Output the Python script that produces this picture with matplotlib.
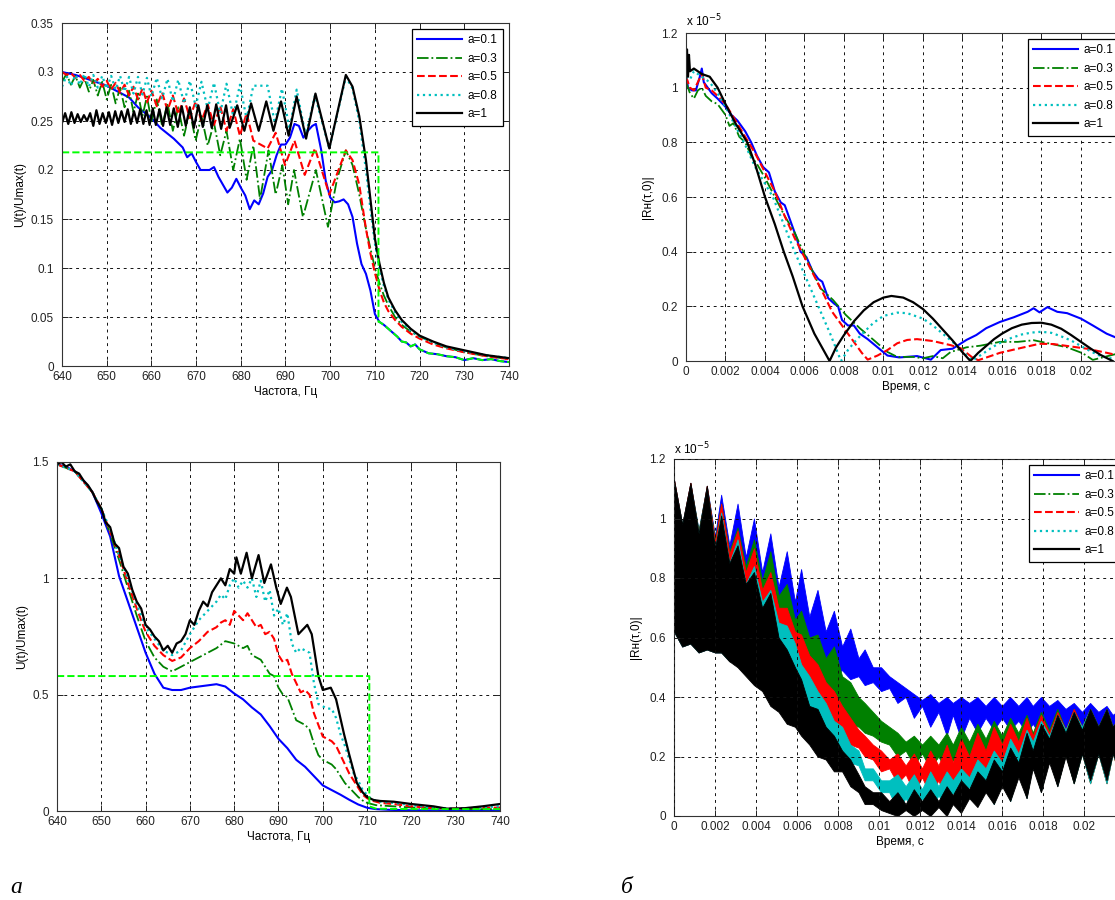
import numpy as np
import matplotlib
matplotlib.use("Agg")
import matplotlib.pyplot as plt
from matplotlib.lines import Line2D
from matplotlib.ticker import FuncFormatter

plt.rcParams['font.family'] = ['Liberation Sans', 'DejaVu Sans']
plt.rcParams['font.size'] = 8.5

labels = ['a=0.1', 'a=0.3', 'a=0.5', 'a=0.8', 'a=1']
colors = ['#0000ff', '#008000', '#ff0000', '#00bfbf', '#000000']
styles = ['-', '-.', '--', ':', '-']
widths = [1.5, 1.3, 1.5, 1.6, 1.6]

# ---- top left: spectrum, 640-740 Hz ----
tl_f_blue = [640, 643, 645, 650, 655, 657, 660, 662, 665, 667, 668, 669, 670, 671, 673, 674, 675,
             677, 678, 679, 680, 681, 682, 683, 684, 685, 686, 687, 688, 689, 690, 691, 692, 693,
             694, 695, 696, 696.8, 698, 699, 700, 701, 702, 703, 704, 705, 706, 707, 708, 709,
             710, 711, 712, 713, 714, 715, 716, 717, 718, 719, 720, 722, 724, 726, 728, 730, 732,
             734, 736, 738, 740]
tl_blue = [0.3, 0.297, 0.294, 0.286, 0.274, 0.264, 0.253, 0.243, 0.232, 0.223, 0.213, 0.217,
           0.208, 0.2, 0.2, 0.203, 0.193, 0.177, 0.182, 0.191, 0.182, 0.174, 0.16, 0.169, 0.165,
           0.176, 0.193, 0.2, 0.215, 0.226, 0.226, 0.233, 0.247, 0.245, 0.233, 0.24, 0.245, 0.247,
           0.22, 0.189, 0.172, 0.167, 0.168, 0.17, 0.165, 0.152, 0.125, 0.104, 0.094, 0.077,
           0.053, 0.045, 0.042, 0.038, 0.034, 0.03, 0.025, 0.024, 0.02, 0.022, 0.017, 0.013,
           0.012, 0.01, 0.009, 0.006, 0.008, 0.006, 0.007, 0.005, 0.004]

tl_f_osc = [640, 641, 642, 643, 644, 645, 646, 647, 648, 649, 650, 651, 652, 653, 654, 655, 656,
            657, 658, 659, 660, 661.2, 662.4, 663.6, 664.8, 666, 667.3, 668.6, 669.9, 671.2,
            672.6, 674, 675.4, 676.8, 678.3, 679.8, 681.3, 682.8, 684.3]
tl_green = [0.29, 0.298, 0.287, 0.296, 0.284, 0.294, 0.28, 0.292, 0.276, 0.29, 0.272, 0.287,
            0.268, 0.284, 0.264, 0.281, 0.259, 0.278, 0.255, 0.275, 0.25, 0.272, 0.245, 0.268,
            0.24, 0.264, 0.235, 0.26, 0.23, 0.255, 0.225, 0.248, 0.215, 0.24, 0.2, 0.232, 0.19,
            0.225, 0.17]
tl_f_green_tail = [686.2, 687.8, 689.3, 690.6, 691.9, 693.9, 696.8, 699.5, 701.5, 703.5, 705,
                   706.5, 708, 709, 710, 711, 712, 713, 714.5, 716, 718, 720, 723, 726, 730,
                   735, 740]
tl_green_tail = [0.22, 0.175, 0.205, 0.165, 0.2, 0.152, 0.2, 0.142, 0.19, 0.22, 0.205, 0.175,
                 0.14, 0.12, 0.1, 0.085, 0.072, 0.062, 0.05, 0.042, 0.035, 0.03, 0.024, 0.019,
                 0.014, 0.01, 0.007]

tl_red = [0.3, 0.297, 0.299, 0.294, 0.297, 0.291, 0.295, 0.288, 0.293, 0.285, 0.291, 0.282,
          0.289, 0.279, 0.287, 0.276, 0.285, 0.272, 0.283, 0.269, 0.281, 0.265, 0.279, 0.261,
          0.276, 0.257, 0.273, 0.253, 0.27, 0.25, 0.267, 0.246, 0.265, 0.24, 0.262, 0.235,
          0.258, 0.23, 0.252]
tl_f_red_tail = [686, 687.8, 689.9, 692, 694.3, 696.6, 699.8, 703.5, 705, 706.5, 708, 709, 710,
                 711, 712, 713, 714.5, 716, 718, 720, 723, 726, 730, 735, 740]
tl_red_tail = [0.222, 0.238, 0.205, 0.23, 0.195, 0.222, 0.175, 0.22, 0.21, 0.185, 0.14, 0.115,
               0.095, 0.078, 0.065, 0.056, 0.047, 0.04, 0.033, 0.028, 0.022, 0.018, 0.014,
               0.01, 0.007]

tl_cyan = [0.285, 0.296, 0.286, 0.297, 0.287, 0.298, 0.285, 0.297, 0.284, 0.296, 0.283, 0.296,
           0.282, 0.296, 0.28, 0.295, 0.278, 0.295, 0.277, 0.294, 0.275, 0.294, 0.273, 0.293,
           0.27, 0.292, 0.268, 0.291, 0.265, 0.29, 0.262, 0.289, 0.258, 0.288, 0.255, 0.287,
           0.252, 0.286, 0.25]
tl_f_cyan_tail = [686, 687.6, 689.2, 690.9, 692.5, 694.5, 696.6, 699.8, 703.5, 705, 706.5,
                  708, 709, 710, 711, 712, 713, 714.5, 716, 718, 720, 723, 726, 730, 735, 740]
tl_cyan_tail = [0.286, 0.248, 0.283, 0.242, 0.282, 0.235, 0.276, 0.222, 0.295, 0.283, 0.25,
                0.2, 0.16, 0.125, 0.1, 0.082, 0.068, 0.055, 0.045, 0.036, 0.03, 0.024, 0.019,
                0.015, 0.011, 0.008]

tl_f_black = [640, 640.7, 641.4, 642.1, 642.8, 643.5, 644.2, 644.9, 645.6, 646.3, 647, 647.7,
              648.4, 649.1, 649.8, 650.5, 651.2, 651.9, 652.6, 653.3, 654, 654.7, 655.4, 656.1,
              656.8, 657.5, 658.2, 658.9, 659.6, 660.3, 661, 661.8, 662.6, 663.4, 664.2, 665,
              665.9, 666.8, 667.7, 668.6, 669.5, 670.5, 671.5, 672.5, 673.5, 674.5, 675.6,
              676.7, 677.5, 679.2, 680.8, 682.3, 684, 685.7, 687.3, 689, 690.7, 692.5, 694.6,
              696.7, 699.8, 703.5, 705, 706.5, 708, 709, 710, 711, 712, 713, 714.5, 716, 718,
              720, 723, 726, 730, 735, 740]
tl_black = [0.248, 0.258, 0.247, 0.259, 0.248, 0.257, 0.249, 0.256, 0.25, 0.258, 0.245, 0.261,
            0.247, 0.258, 0.248, 0.259, 0.246, 0.26, 0.248, 0.26, 0.249, 0.262, 0.247, 0.26,
            0.248, 0.262, 0.247, 0.261, 0.246, 0.263, 0.246, 0.262, 0.245, 0.264, 0.246, 0.263,
            0.244, 0.265, 0.245, 0.264, 0.243, 0.266, 0.244, 0.266, 0.243, 0.267, 0.242, 0.266,
            0.243, 0.266, 0.24, 0.268, 0.24, 0.27, 0.24, 0.27, 0.235, 0.275, 0.232, 0.278,
            0.222, 0.297, 0.285, 0.255, 0.21, 0.17, 0.13, 0.105, 0.085, 0.07, 0.057, 0.047,
            0.038, 0.031, 0.025, 0.02, 0.016, 0.011, 0.008]

tl_ideal_level = 0.218
tl_ideal_cut = 710.8

# ---- top right: correlation, smooth ----
tr_t_blue = [0, 0.0001, 0.0003, 0.0005, 0.0007, 0.0008, 0.0009, 0.0011, 0.0013, 0.0016, 0.002,
             0.0023, 0.0026, 0.003, 0.0033, 0.0036, 0.0039, 0.0042, 0.0045, 0.0048, 0.005,
             0.0053, 0.0056, 0.0058, 0.0061, 0.0064, 0.0067, 0.0069, 0.0072, 0.0075, 0.0077,
             0.0079, 0.0082, 0.0085, 0.0088, 0.0092, 0.0097, 0.0102, 0.0108, 0.0117, 0.0124,
             0.0129, 0.0135, 0.0142, 0.0147, 0.0152, 0.0159, 0.0166, 0.0173, 0.0176, 0.0179,
             0.0183, 0.0188, 0.0193, 0.02, 0.0206, 0.0213, 0.0218]
tr_blue = [1.06, 1.0, 0.99, 0.99, 1.04, 1.07, 1.02, 1.0, 0.98, 0.96, 0.93, 0.9, 0.88, 0.84,
           0.8, 0.75, 0.71, 0.69, 0.62, 0.58, 0.57, 0.51, 0.45, 0.4, 0.38, 0.33, 0.3, 0.29,
           0.23, 0.21, 0.2, 0.15, 0.13, 0.13, 0.1, 0.08, 0.05, 0.02, 0.013, 0.018, 0.005, 0.04,
           0.045, 0.077, 0.095, 0.12, 0.143, 0.16, 0.18, 0.193, 0.178, 0.197, 0.18, 0.175,
           0.155, 0.13, 0.1, 0.085]

tr_t_green = [0, 0.0002, 0.0004, 0.0006, 0.0008, 0.001, 0.0013, 0.0016, 0.002, 0.0022, 0.0024,
              0.0027, 0.003, 0.0033, 0.0036, 0.004, 0.0045, 0.005, 0.0055, 0.006, 0.0064,
              0.0068, 0.00745, 0.0081, 0.0088, 0.0095, 0.0102, 0.0107, 0.0115, 0.012, 0.0125,
              0.013, 0.0134, 0.0142, 0.0149, 0.0159, 0.0168, 0.0176, 0.0184, 0.0193, 0.0201,
              0.0206, 0.0213, 0.0218]
tr_green = [1.02, 0.98, 0.96, 0.99, 1.0, 0.97, 0.95, 0.94, 0.9, 0.86, 0.87, 0.82, 0.8, 0.75,
            0.72, 0.67, 0.6, 0.53, 0.47, 0.39, 0.33, 0.267, 0.223, 0.168, 0.12, 0.077, 0.033,
            0.015, 0.015, 0.01, 0.018, 0.01, 0.033, 0.05, 0.056, 0.07, 0.07, 0.076, 0.064,
            0.05, 0.028, 0.004, 0.017, 0.026]

tr_t_red = [0, 0.0002, 0.0004, 0.0006, 0.0008, 0.001, 0.0013, 0.0016, 0.002, 0.0025, 0.003,
            0.0035, 0.004, 0.0045, 0.005, 0.0055, 0.006, 0.0065, 0.007, 0.0074, 0.008, 0.0085,
            0.0089, 0.0092, 0.0097, 0.0102, 0.0107, 0.0112, 0.0117, 0.0125, 0.0134, 0.0139,
            0.0145, 0.0148, 0.0153, 0.0159, 0.0168, 0.0179, 0.0186, 0.0193, 0.0203, 0.0213,
            0.0218]
tr_red = [1.04, 1.0, 0.99, 1.02, 1.05, 1.0, 0.99, 0.97, 0.94, 0.88, 0.82, 0.76, 0.69, 0.62,
          0.53, 0.45, 0.38, 0.31, 0.24, 0.18, 0.12, 0.07, 0.03, 0.005, 0.02, 0.04, 0.065,
          0.077, 0.08, 0.073, 0.058, 0.047, 0.013, 0.003, 0.015, 0.03, 0.045, 0.063, 0.062,
          0.055, 0.045, 0.03, 0.022]

tr_t_cyan = [0, 0.0002, 0.0004, 0.0006, 0.0008, 0.0012, 0.0016, 0.002, 0.0025, 0.003, 0.0035,
             0.0044, 0.0055, 0.0067, 0.0073, 0.00785, 0.0082, 0.0086, 0.009, 0.0095, 0.01,
             0.0107, 0.0112, 0.012, 0.0125, 0.013, 0.0135, 0.014, 0.0145, 0.015, 0.0155,
             0.016, 0.0165, 0.017, 0.0175, 0.018, 0.0185, 0.019, 0.0195, 0.02, 0.0205, 0.021,
             0.0218]
tr_cyan = [1.04, 1.03, 1.06, 1.05, 1.04, 1.02, 0.98, 0.93, 0.86, 0.79, 0.71, 0.6, 0.4, 0.2,
           0.1, 0.0, 0.04, 0.075, 0.105, 0.14, 0.165, 0.177, 0.175, 0.155, 0.13, 0.1, 0.07,
           0.035, 0.002, 0.025, 0.05, 0.07, 0.085, 0.097, 0.104, 0.107, 0.103, 0.09, 0.075,
           0.055, 0.035, 0.018, 0.005]

tr_t_black = [0, 0.00005, 0.0001, 0.00015, 0.0002, 0.0004, 0.0008, 0.0012, 0.0016, 0.002,
              0.0025, 0.0031, 0.0035, 0.004, 0.0045, 0.00495, 0.0054, 0.0059, 0.0065, 0.00727,
              0.0076, 0.008, 0.0085, 0.009, 0.0095, 0.01, 0.0104, 0.011, 0.0115, 0.012, 0.0125,
              0.013, 0.0135, 0.014, 0.0144, 0.0148, 0.0152, 0.0156, 0.016, 0.0165, 0.017,
              0.0175, 0.018, 0.0185, 0.019, 0.0195, 0.02, 0.0205, 0.021, 0.0216]
tr_black = [1.07, 1.14, 1.04, 1.12, 1.06, 1.07, 1.05, 1.04, 1.0, 0.94, 0.87, 0.8, 0.72, 0.6,
            0.5, 0.4, 0.31, 0.2, 0.1, 0.0, 0.05, 0.095, 0.145, 0.185, 0.215, 0.232, 0.238,
            0.232, 0.215, 0.19, 0.155, 0.115, 0.075, 0.032, 0.0, 0.03, 0.055, 0.08, 0.1, 0.12,
            0.133, 0.139, 0.14, 0.133, 0.118, 0.095, 0.07, 0.045, 0.022, 0.0]

# ---- bottom left: spectrum, second case ----
bl_f_blue = [640, 642, 644, 646, 648, 650, 652, 654, 656, 658, 660, 662, 664, 666, 668, 670,
             672, 674, 676, 678, 680, 682, 684, 686, 688, 690, 692, 694, 696, 698, 700, 702,
             704, 706, 708, 710, 712, 715, 720, 730, 740]
bl_blue = [1.49, 1.48, 1.46, 1.42, 1.37, 1.28, 1.18, 1.01, 0.9, 0.79, 0.68, 0.59, 0.53, 0.52,
           0.52, 0.53, 0.535, 0.54, 0.545, 0.535, 0.505, 0.48, 0.445, 0.415, 0.365, 0.31,
           0.27, 0.22, 0.19, 0.15, 0.11, 0.09, 0.07, 0.048, 0.028, 0.014, 0.008, 0.005, 0.003,
           0.002, 0.002]

bl_f_green = [640, 644, 648, 650, 652, 654, 656, 658, 660, 662, 664, 666, 668, 670, 672, 674,
              676, 678, 680, 682, 683, 684, 686, 687, 688, 689, 690, 691, 692, 693, 694, 695,
              696, 697, 698, 699, 700, 701, 702, 703, 704, 705, 706, 707, 708, 709, 710, 712,
              716, 720, 730, 740]
bl_green = [1.49, 1.46, 1.37, 1.3, 1.19, 1.08, 0.96, 0.84, 0.73, 0.66, 0.62, 0.6, 0.62, 0.64,
            0.66, 0.68, 0.7, 0.73, 0.72, 0.7, 0.71, 0.67, 0.65, 0.62, 0.59, 0.58, 0.53, 0.5,
            0.49, 0.44, 0.39, 0.38, 0.37, 0.35, 0.29, 0.24, 0.22, 0.21, 0.2, 0.18, 0.15, 0.12,
            0.1, 0.08, 0.06, 0.045, 0.035, 0.025, 0.02, 0.015, 0.008, 0.008]

bl_f_red = [640, 644, 648, 650, 652, 654, 656, 658, 660, 662, 664, 666, 668, 670, 672, 674,
            676, 677, 678, 679, 680, 681, 682, 683, 684, 685, 686, 687, 688, 689, 690, 691,
            692, 693, 694, 695, 696, 697, 698, 699, 700, 701, 702, 703, 704, 705, 706, 707,
            708, 709, 710, 711, 713, 716, 720, 725, 730, 735, 740]
bl_red = [1.49, 1.46, 1.37, 1.3, 1.2, 1.1, 0.98, 0.87, 0.77, 0.71, 0.67, 0.645, 0.66, 0.7,
          0.73, 0.77, 0.79, 0.81, 0.82, 0.8, 0.86, 0.84, 0.82, 0.85, 0.82, 0.79, 0.8, 0.76,
          0.77, 0.74, 0.67, 0.64, 0.65, 0.59, 0.55, 0.51, 0.52, 0.5, 0.42, 0.37, 0.32, 0.31,
          0.3, 0.28, 0.24, 0.2, 0.16, 0.13, 0.1, 0.07, 0.055, 0.045, 0.035, 0.03, 0.02, 0.012,
          0.01, 0.012, 0.015]

bl_f_cyan = [640, 644, 648, 650, 652, 654, 656, 658, 660, 662, 664, 666, 668, 670, 672, 674,
             676, 677, 678, 679, 680, 681, 682, 683, 684, 685, 686, 687, 688, 689, 690, 691,
             692, 693, 694, 695, 696, 697, 698, 699, 700, 701, 702, 703, 704, 705, 706, 707,
             708, 709, 710, 711, 713, 716, 720, 725, 730, 735, 740]
bl_cyan = [1.49, 1.46, 1.37, 1.3, 1.21, 1.1, 1.0, 0.89, 0.79, 0.74, 0.69, 0.67, 0.69, 0.76,
           0.82, 0.86, 0.9, 0.93, 0.91, 0.97, 1.0, 0.96, 0.99, 0.96, 1.0, 0.92, 0.99, 0.9,
           0.95, 0.84, 0.87, 0.8, 0.85, 0.72, 0.68, 0.7, 0.69, 0.68, 0.55, 0.46, 0.45, 0.44,
           0.44, 0.4, 0.33, 0.28, 0.22, 0.16, 0.13, 0.09, 0.07, 0.05, 0.04, 0.035, 0.025,
           0.015, 0.01, 0.015, 0.02]

bl_f_black = [640, 641, 642, 643, 644, 645, 646, 647, 648, 649, 650, 651, 652, 653, 654, 655,
              656, 657, 658, 659, 660, 661, 662, 663, 664, 665, 666, 667, 668, 669, 670, 671,
              672, 673, 674, 675, 676, 677, 678, 679, 680, 680.5, 681.5, 682.8, 684, 685.5,
              686.8, 688.3, 689.5, 690.5, 691.9, 692.8, 694.5, 696.5, 697.5, 699, 700, 701.8,
              703, 704.8, 706, 707.7, 709, 710, 711.5, 713, 716, 720, 725, 728, 732, 736, 738,
              740]
bl_black = [1.49, 1.5, 1.48, 1.49, 1.46, 1.45, 1.42, 1.4, 1.37, 1.33, 1.3, 1.24, 1.22, 1.15,
            1.13, 1.05, 1.02, 0.95, 0.9, 0.87, 0.8, 0.78, 0.75, 0.73, 0.69, 0.71, 0.68, 0.72,
            0.73, 0.76, 0.82, 0.8, 0.86, 0.9, 0.88, 0.94, 0.97, 1.0, 0.97, 1.04, 1.02, 1.09,
            1.02, 1.11, 1.0, 1.1, 0.98, 1.06, 0.96, 0.89, 0.96, 0.92, 0.76, 0.8, 0.76, 0.58,
            0.52, 0.53, 0.48, 0.33, 0.24, 0.12, 0.08, 0.06, 0.047, 0.043, 0.04, 0.03, 0.02,
            0.01, 0.012, 0.02, 0.025, 0.03]

bl_ideal_f = [640, 710.5, 710.5, 712, 720, 730, 740]
bl_ideal = [0.58, 0.58, 0.02, 0.01, 0.008, 0.008, 0.008]

# ---- bottom right: correlation, dense oscillation bands (x 1e-5) ----
br_t_lobe = [0, 0.0008, 0.0016, 0.0023, 0.0031, 0.0039, 0.0047, 0.0055, 0.0062, 0.007, 0.0078,
             0.0086, 0.0093, 0.0101, 0.0109, 0.0117, 0.0125, 0.0133, 0.014, 0.0148, 0.0156,
             0.0164, 0.0172, 0.0179, 0.0187, 0.0195, 0.0203, 0.0211, 0.0218]
br_t_neck = [0.0004, 0.0012, 0.002, 0.0027, 0.0035, 0.0043, 0.0051, 0.0059, 0.0066, 0.0074,
             0.0082, 0.009, 0.0097, 0.0105, 0.0113, 0.0121, 0.0129, 0.0136, 0.0144, 0.0152,
             0.016, 0.0168, 0.0175, 0.0183, 0.0191, 0.0199, 0.0207, 0.0214]

br_blue_up_lobe = [1.13, 1.12, 1.11, 1.08, 1.05, 1.0, 0.95, 0.89, 0.83, 0.76, 0.69, 0.63, 0.56,
                   0.5, 0.45, 0.41, 0.41, 0.4, 0.4, 0.4, 0.4, 0.4, 0.4, 0.4, 0.39, 0.38, 0.38,
                   0.37, 0.36]
br_blue_up_neck = [0.98, 0.96, 0.94, 0.91, 0.87, 0.82, 0.77, 0.72, 0.67, 0.62, 0.57, 0.53, 0.5,
                   0.47, 0.43, 0.39, 0.38, 0.38, 0.38, 0.37, 0.37, 0.37, 0.37, 0.37, 0.36,
                   0.35, 0.35, 0.34]
br_blue_lo_lobe = [0.62, 0.58, 0.56, 0.55, 0.53, 0.52, 0.52, 0.52, 0.51, 0.5, 0.48, 0.46, 0.44,
                   0.42, 0.38, 0.33, 0.3, 0.27, 0.26, 0.28, 0.29, 0.29, 0.28, 0.27, 0.24, 0.2,
                   0.16, 0.13, 0.14]
br_blue_lo_neck = [0.57, 0.55, 0.55, 0.53, 0.52, 0.52, 0.52, 0.52, 0.51, 0.5, 0.49, 0.47, 0.45,
                   0.43, 0.4, 0.37, 0.35, 0.34, 0.33, 0.33, 0.33, 0.32, 0.31, 0.29, 0.26, 0.23,
                   0.21, 0.21]

br_green_up_lobe = [1.13, 1.12, 1.11, 1.05, 0.97, 0.93, 0.89, 0.78, 0.69, 0.61, 0.57, 0.45,
                    0.38, 0.32, 0.28, 0.27, 0.27, 0.28, 0.3, 0.31, 0.32, 0.33, 0.34, 0.35,
                    0.36, 0.36, 0.36, 0.36, 0.34]
br_green_up_neck = [0.98, 0.96, 0.93, 0.89, 0.84, 0.79, 0.74, 0.66, 0.6, 0.53, 0.47, 0.4, 0.35,
                    0.3, 0.25, 0.24, 0.24, 0.24, 0.25, 0.26, 0.27, 0.28, 0.28, 0.29, 0.29, 0.3,
                    0.3, 0.3]
br_green_lo_lobe = [0.62, 0.58, 0.56, 0.55, 0.53, 0.5, 0.48, 0.45, 0.42, 0.38, 0.34, 0.31, 0.28,
                    0.25, 0.2, 0.17, 0.16, 0.15, 0.14, 0.14, 0.14, 0.13, 0.12, 0.11, 0.11, 0.11,
                    0.11, 0.11, 0.12]
br_green_lo_neck = [0.57, 0.55, 0.55, 0.53, 0.51, 0.49, 0.47, 0.44, 0.4, 0.36, 0.33, 0.3, 0.27,
                    0.24, 0.22, 0.21, 0.2, 0.19, 0.19, 0.19, 0.19, 0.2, 0.2, 0.21, 0.21, 0.21,
                    0.21, 0.21]

br_red_up_lobe = [1.13, 1.12, 1.11, 1.05, 0.96, 0.9, 0.82, 0.7, 0.61, 0.51, 0.42, 0.33, 0.27,
                  0.22, 0.21, 0.21, 0.22, 0.24, 0.26, 0.28, 0.3, 0.31, 0.33, 0.34, 0.35, 0.36,
                  0.36, 0.36, 0.34]
br_red_up_neck = [0.98, 0.95, 0.92, 0.88, 0.82, 0.76, 0.7, 0.62, 0.54, 0.45, 0.37, 0.29, 0.24,
                  0.19, 0.17, 0.16, 0.17, 0.18, 0.2, 0.22, 0.24, 0.25, 0.27, 0.28, 0.29, 0.3,
                  0.3, 0.3]
br_red_lo_lobe = [0.62, 0.58, 0.56, 0.55, 0.52, 0.49, 0.45, 0.42, 0.38, 0.33, 0.28, 0.24, 0.2,
                  0.15, 0.11, 0.08, 0.07, 0.05, 0.04, 0.04, 0.05, 0.06, 0.06, 0.08, 0.1, 0.11,
                  0.11, 0.11, 0.12]
br_red_lo_neck = [0.57, 0.55, 0.55, 0.52, 0.5, 0.47, 0.44, 0.4, 0.36, 0.31, 0.27, 0.23, 0.19,
                  0.16, 0.14, 0.13, 0.12, 0.11, 0.11, 0.13, 0.15, 0.17, 0.18, 0.2, 0.21, 0.21,
                  0.21, 0.21]

br_cyan_up_lobe = [1.12, 1.11, 1.1, 1.02, 0.93, 0.84, 0.76, 0.64, 0.51, 0.42, 0.32, 0.24, 0.16,
                   0.12, 0.14, 0.14, 0.15, 0.15, 0.16, 0.19, 0.22, 0.26, 0.29, 0.32, 0.34,
                   0.35, 0.36, 0.36, 0.34]
br_cyan_up_neck = [0.98, 0.95, 0.9, 0.85, 0.78, 0.72, 0.65, 0.58, 0.47, 0.38, 0.3, 0.22, 0.16,
                   0.12, 0.1, 0.09, 0.1, 0.12, 0.13, 0.16, 0.18, 0.21, 0.25, 0.27, 0.29, 0.3,
                   0.3, 0.3]
br_cyan_lo_lobe = [0.62, 0.58, 0.56, 0.55, 0.52, 0.47, 0.42, 0.38, 0.33, 0.29, 0.24, 0.18, 0.12,
                   0.08, 0.02, 0.01, 0.01, 0.02, 0.03, 0.04, 0.04, 0.05, 0.06, 0.08, 0.1, 0.11,
                   0.11, 0.11, 0.13]
br_cyan_lo_neck = [0.57, 0.55, 0.55, 0.52, 0.48, 0.45, 0.4, 0.36, 0.31, 0.27, 0.22, 0.17, 0.12,
                   0.08, 0.06, 0.06, 0.07, 0.08, 0.1, 0.12, 0.14, 0.16, 0.18, 0.2, 0.21, 0.21,
                   0.21, 0.21]

br_black_up_lobe = [1.13, 1.12, 1.11, 1.01, 0.91, 0.82, 0.75, 0.56, 0.46, 0.36, 0.27, 0.19,
                    0.1, 0.08, 0.08, 0.09, 0.09, 0.1, 0.12, 0.15, 0.19, 0.23, 0.28, 0.31, 0.34,
                    0.35, 0.36, 0.36, 0.34]
br_black_up_neck = [0.98, 0.95, 0.9, 0.85, 0.78, 0.7, 0.6, 0.5, 0.37, 0.3, 0.22, 0.14, 0.08,
                    0.05, 0.04, 0.05, 0.05, 0.07, 0.09, 0.12, 0.15, 0.18, 0.22, 0.26, 0.28,
                    0.29, 0.3, 0.3]
br_black_lo_lobe = [0.62, 0.58, 0.56, 0.55, 0.5, 0.44, 0.37, 0.31, 0.27, 0.2, 0.15, 0.1, 0.04,
                    0.02, 0.0, 0.0, 0.0, 0.0, 0.01, 0.03, 0.04, 0.05, 0.06, 0.08, 0.1, 0.11,
                    0.12, 0.12, 0.14]
br_black_lo_neck = [0.57, 0.55, 0.55, 0.52, 0.47, 0.42, 0.35, 0.3, 0.24, 0.19, 0.15, 0.08, 0.04,
                    0.01, 0.02, 0.02, 0.03, 0.04, 0.06, 0.08, 0.1, 0.13, 0.16, 0.18, 0.2, 0.21,
                    0.21, 0.21]


def interleave(lobe, neck):
    out = np.empty(len(lobe) + len(neck))
    out[0::2] = lobe
    out[1::2] = neck
    return out


def style_axes(ax, xlim, ylim, xticks, yticks):
    ax.set_xlim(*xlim)
    ax.set_ylim(*ylim)
    ax.set_xticks(xticks)
    ax.set_yticks(yticks)
    fmt = FuncFormatter(lambda v, p: '%g' % round(v, 6))
    ax.xaxis.set_major_formatter(fmt)
    ax.yaxis.set_major_formatter(fmt)
    ax.tick_params(direction='in', length=4, width=0.7, colors='#222222', labelsize=8.5,
                   top=True, right=True)
    ax.tick_params(axis='y', pad=6)
    ax.grid(True, color='#111111', linestyle=(0, (3, 4)), linewidth=0.7)
    for s in ax.spines.values():
        s.set_color('#333333')
        s.set_linewidth(0.8)


def add_legend(ax):
    handles = [Line2D([], [], color=c, linestyle=ls, linewidth=lw)
               for c, ls, lw in zip(colors, styles, widths)]
    leg = ax.legend(handles, labels, loc='upper right', fontsize=8.5, frameon=True,
                    fancybox=False, edgecolor='black', framealpha=1, handlelength=3.8,
                    handletextpad=0.5, labelspacing=0.55, borderpad=0.45, borderaxespad=0.5)
    leg.get_frame().set_linewidth(0.9)


W, H = 1115, 900
fig = plt.figure(figsize=(W / 100, H / 100), dpi=100)


def px_axes(left, top, right, bottom):
    return fig.add_axes([left / W, 1 - bottom / H, (right - left) / W, (bottom - top) / H])


# top left
ax = px_axes(62, 23, 509, 366)
tl_series = [
    (tl_f_blue, tl_blue),
    (tl_f_osc + tl_f_green_tail, tl_green + tl_green_tail),
    (tl_f_osc[:-1] + tl_f_red_tail, tl_red[:-1] + tl_red_tail),
    (tl_f_osc[:-1] + tl_f_cyan_tail, tl_cyan[:-1] + tl_cyan_tail),
    (tl_f_black, tl_black),
]
for (f, y), c, ls, lw in zip(tl_series, colors, styles, widths):
    ax.plot(f, y, color=c, linestyle=ls, linewidth=lw)
cut = [i for i, f in enumerate(tl_f_blue) if f > tl_ideal_cut]
ideal_f = [640, tl_ideal_cut, tl_ideal_cut] + [tl_f_blue[i] for i in cut]
ideal_y = [tl_ideal_level, tl_ideal_level, tl_blue[cut[0]]] + [tl_blue[i] for i in cut]
ax.plot(ideal_f, ideal_y, color='#00ff00', linestyle='--', linewidth=1.4)
style_axes(ax, (640, 740), (0, 0.35), np.arange(640, 741, 10), np.arange(0, 0.351, 0.05))
ax.set_xlabel('Частота, Гц', labelpad=2)
ax.set_ylabel('U(t)/Umax(t)', labelpad=3)
add_legend(ax)

# top right
ax = px_axes(686, 33, 1125, 361)
tr_series = [(tr_t_blue, tr_blue), (tr_t_green, tr_green), (tr_t_red, tr_red),
             (tr_t_cyan, tr_cyan), (tr_t_black, tr_black)]
for (t, y), c, ls, lw in zip(tr_series, colors, styles, widths):
    ax.plot(t, y, color=c, linestyle=ls, linewidth=lw)
style_axes(ax, (0, 0.02223), (0, 1.2), np.arange(0, 0.0201, 0.002), np.arange(0, 1.21, 0.2))
ax.set_xlabel('Время, с', labelpad=2)
ax.set_ylabel('|Rн(τ,0)|', labelpad=5)
ax.text(0, 1.012, r'x 10$^{-5}$', transform=ax.transAxes, fontsize=8.5, va='bottom')
add_legend(ax)

# bottom left
ax = px_axes(57, 462, 500, 811)
bl_series = [(bl_f_blue, bl_blue), (bl_f_green, bl_green), (bl_f_red, bl_red),
             (bl_f_cyan, bl_cyan), (bl_f_black, bl_black)]
for (f, y), c, ls, lw in zip(bl_series, colors, styles, widths):
    ax.plot(f, y, color=c, linestyle=ls, linewidth=lw)
ax.plot(bl_ideal_f, bl_ideal, color='#00ff00', linestyle='--', linewidth=1.4)
style_axes(ax, (640, 740), (0, 1.5), np.arange(640, 741, 10), [0, 0.5, 1, 1.5])
ax.set_xlabel('Частота, Гц', labelpad=2)
ax.set_ylabel('U(t)/Umax(t)', labelpad=3)

# bottom right
ax = px_axes(674, 459, 1126, 816)
br_t = interleave(br_t_lobe, br_t_neck)
br_bands = [
    (br_blue_up_lobe, br_blue_up_neck, br_blue_lo_lobe, br_blue_lo_neck),
    (br_green_up_lobe, br_green_up_neck, br_green_lo_lobe, br_green_lo_neck),
    (br_red_up_lobe, br_red_up_neck, br_red_lo_lobe, br_red_lo_neck),
    (br_cyan_up_lobe, br_cyan_up_neck, br_cyan_lo_lobe, br_cyan_lo_neck),
    (br_black_up_lobe, br_black_up_neck, br_black_lo_lobe, br_black_lo_neck),
]
for (ul, un, ll, ln), c in zip(br_bands, colors):
    up = interleave(ul, un)
    lo = interleave(ll, ln)
    ax.fill_between(br_t, lo, up, color=c, linewidth=0.6, edgecolor=c)
style_axes(ax, (0, 0.02205), (0, 1.2), np.arange(0, 0.0201, 0.002), np.arange(0, 1.21, 0.2))
ax.set_axisbelow(False)
ax.set_xlabel('Время, с', labelpad=2)
ax.set_ylabel('|Rн(τ,0)|', labelpad=5)
ax.text(0, 1.005, r'x 10$^{-5}$', transform=ax.transAxes, fontsize=8.5, va='bottom')
add_legend(ax)

fig.text(10 / W, 1 - 893 / H, 'а', fontsize=17, family='Liberation Serif', style='italic')
fig.text(621 / W, 1 - 893 / H, 'б', fontsize=17, family='Liberation Serif', style='italic')

fig.savefig('out.png', dpi=100, facecolor='white')
